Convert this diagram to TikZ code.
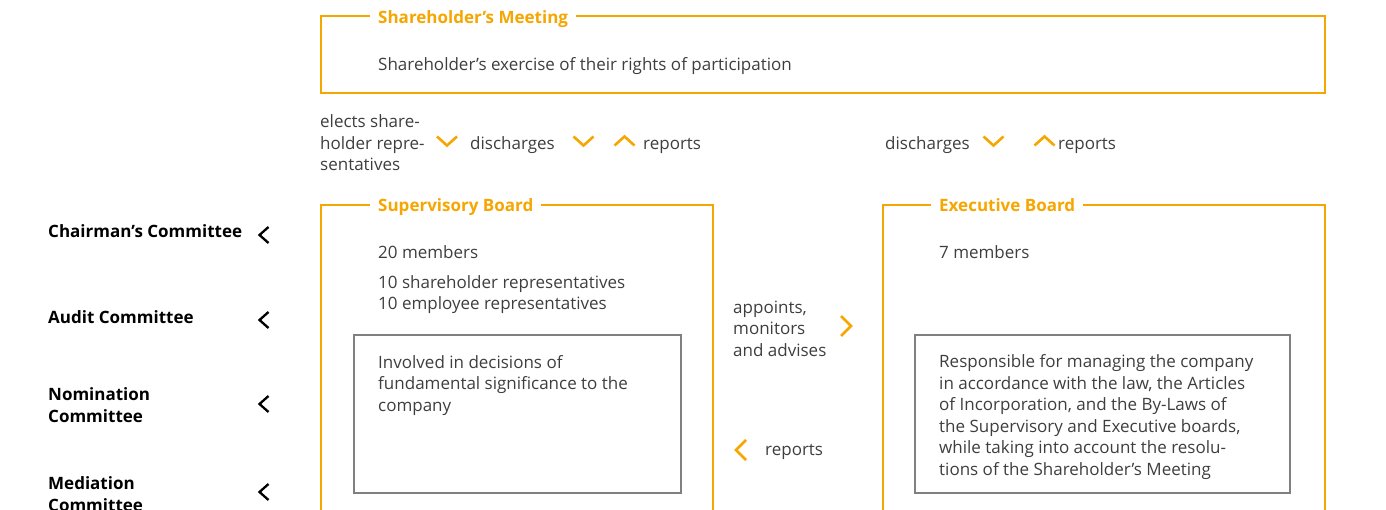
\documentclass[tikz,border=0pt]{standalone}
\usepackage{fontspec}
\setmainfont{Open Sans}
\definecolor{azorange}{RGB}{246,166,0}
\definecolor{boxgray}{RGB}{128,128,128}
\definecolor{txtgray}{RGB}{62,62,62}
\newcommand\basefont{\fontsize{17}{21.5}\selectfont}

\tikzset{
  chevdown/.pic={\draw[chev] (-10,-4.5) -- (0,4.5) -- (10,-4.5);},
  chevup/.pic={\draw[chev] (-10,4.5) -- (0,-4.5) -- (10,4.5);},
  chevright/.pic={\draw[chev] (-5,-10) -- (5,0) -- (-5,10);},
  chevleft/.pic={\draw[chev] (5,-10) -- (-5,0) -- (5,10);},
  cmtechev/.pic={\draw[chev,draw=black,line width=2.3pt] (4.5,-8) -- (-4.5,0) -- (4.5,8);}
}

\begin{document}
\begin{tikzpicture}[x=1pt,y=-1pt,font=\basefont,
  frame/.style={draw=azorange,line width=2.5pt},
  inbox/.style={draw=boxgray,line width=2.5pt},
  chev/.style={draw=azorange,line width=2.6pt},
  title/.style={font=\basefont\bfseries,text=azorange,fill=white,inner xsep=8pt,inner ysep=2pt,anchor=base west},
  txt/.style={text=txtgray,inner sep=0pt,anchor=base west,align=left},
  cmte/.style={font=\basefont\bfseries,text=black,inner sep=0pt,anchor=base west,align=left}]

\useasboundingbox (0,0) rectangle (1386,510);
\clip (0,0) rectangle (1386,510);

% shareholder's meeting
\draw[frame] (321,16) rectangle (1325,93);
\node[title] (smtitle) at (370,24) {Shareholder's Meeting};
\node[txt] (smtext) at (378,71) {Shareholder's exercise of their rights of participation};

% relations to the meeting (base = last line)
\node[txt] (elects) at (320,171) {elects share-\\holder repre-\\sentatives};
\pic at (447,141) {chevdown};
\node[txt] (dischsb) at (470,150) {discharges};
\pic at (583.5,141) {chevdown};
\pic at (624.5,141) {chevup};
\node[txt] (repsb) at (643,150) {reports};

\node[txt] (dischexb) at (885,150) {discharges};
\pic at (993.5,141) {chevdown};
\pic at (1044.5,141) {chevup};
\node[txt] (repexb) at (1058,150) {reports};

% supervisory board
\draw[frame] (321,530) -- (321,205) -- (713,205) -- (713,530);
\node[title] (sbtitle) at (370,212) {Supervisory Board};
\node[txt] (sbmem) at (378,259) {20 members};
\node[txt] (sbrep) at (378,310) {10 shareholder representatives\\10 employee representatives};
\draw[inbox] (354,335) rectangle (681,493);
\node[txt] (sbtask) at (378,411) {Involved in decisions of\\fundamental significance to the\\company};

% between the boards
\node[txt] (appoints) at (733,356) {appoints,\\monitors\\and advises};
\pic at (846,326) {chevright};
\pic at (741,450) {chevleft};
\node[txt] (repback) at (765,455) {reports};

% executive board
\draw[frame] (883,530) -- (883,205) -- (1325,205) -- (1325,530);
\node[title] (exbtitle) at (931,212) {Executive Board};
\node[txt] (exbmem) at (939,259) {7 members};
\draw[inbox] (915,335) rectangle (1290,493);
\node[txt] (exbtask) at (939,475) {Responsible for managing the company\\in accordance with the law, the Articles\\of Incorporation, and the By-Laws of\\the Supervisory and Executive boards,\\while taking into account the resolu-\\tions of the Shareholder's Meeting};

% committees
\node[cmte] (chair) at (48,238) {Chairman's Committee};
\pic at (264,235) {cmtechev};
\node[cmte] (audit) at (48,324) {Audit Committee};
\pic at (264,320) {cmtechev};
\node[cmte] (nomin) at (48,422) {Nomination\\Committee};
\pic at (264,404) {cmtechev};
\node[cmte] (mediat) at (48,511) {Mediation\\Committee};
\pic at (264,492) {cmtechev};

\end{tikzpicture}
\end{document}
